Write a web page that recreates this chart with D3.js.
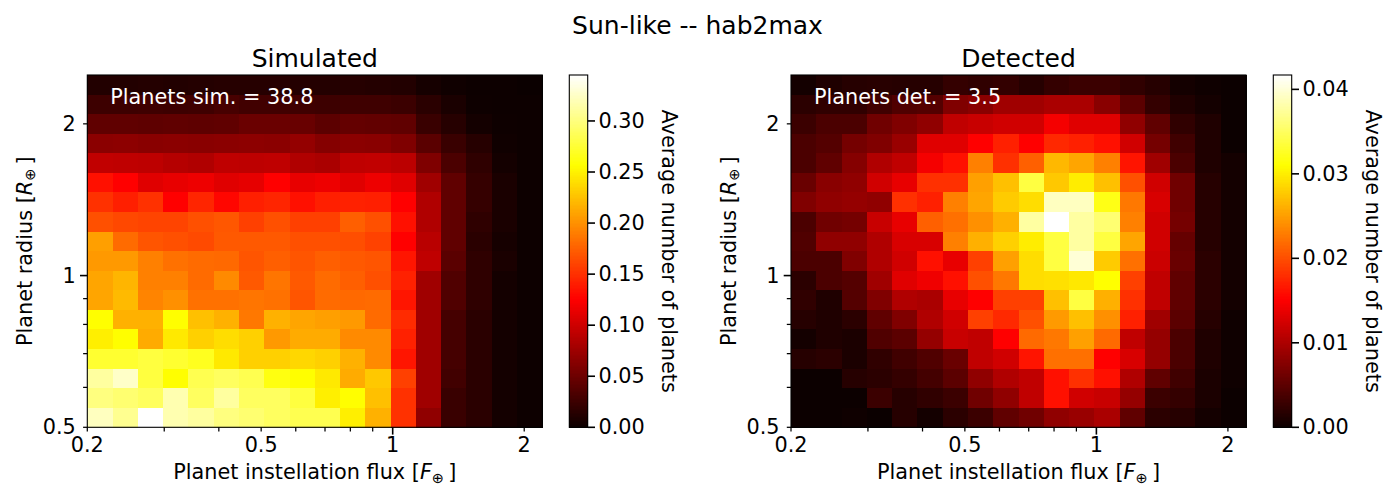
<!DOCTYPE html>
<html>
<head>
<meta charset="utf-8">
<script src="https://cdn.jsdelivr.net/npm/d3@7"></script>
<style>
  body { margin: 0; background: #fff; }
  text { font-family: "DejaVu Sans", sans-serif; fill: #000; }
</style>
</head>
<body>
<svg id="fig" width="1395" height="486"></svg>
<script>
// ---- Data ---------------------------------------------------------------
// Bin layout: 18 log-spaced flux bins over [0.2, 2.2] F_earth,
// 18 log-spaced radius bins over [0.5, 2.5] R_earth.
const fluxRange = [0.2, 2.2];
const radiusRange = [0.5, 2.5];
const nFluxBins = 18;
const nRadiusBins = 18;

// Average number of simulated planets per bin.
// Rows run from the largest radius bin (top) down to the smallest.
const simulated = [
  [0.012,0.012,0.013,0.012,0.013,0.014,0.014,0.014,0.013,0.013,0.014,0.013,0.012,0.006,0.003,0.001,0.001,0.000],
  [0.026,0.026,0.027,0.026,0.027,0.031,0.028,0.028,0.027,0.026,0.027,0.027,0.025,0.016,0.008,0.002,0.001,0.001],
  [0.044,0.044,0.043,0.044,0.043,0.044,0.049,0.049,0.048,0.042,0.046,0.045,0.044,0.024,0.014,0.005,0.002,0.001],
  [0.066,0.067,0.065,0.066,0.065,0.066,0.067,0.066,0.071,0.063,0.066,0.065,0.060,0.041,0.024,0.014,0.003,0.001],
  [0.094,0.093,0.092,0.088,0.085,0.093,0.092,0.093,0.085,0.082,0.093,0.094,0.091,0.060,0.033,0.019,0.005,0.001],
  [0.134,0.126,0.110,0.114,0.117,0.110,0.113,0.126,0.114,0.117,0.110,0.117,0.110,0.077,0.044,0.022,0.008,0.001],
  [0.151,0.142,0.151,0.126,0.145,0.129,0.142,0.145,0.134,0.142,0.143,0.142,0.126,0.085,0.044,0.022,0.008,0.001],
  [0.167,0.163,0.161,0.161,0.167,0.171,0.159,0.167,0.159,0.159,0.175,0.167,0.134,0.085,0.044,0.019,0.008,0.001],
  [0.208,0.181,0.170,0.167,0.164,0.172,0.172,0.172,0.167,0.167,0.166,0.160,0.126,0.090,0.044,0.016,0.006,0.001],
  [0.205,0.205,0.192,0.184,0.181,0.180,0.170,0.175,0.170,0.175,0.172,0.170,0.137,0.093,0.041,0.019,0.008,0.001],
  [0.211,0.219,0.192,0.192,0.181,0.197,0.172,0.186,0.172,0.181,0.175,0.167,0.143,0.077,0.036,0.019,0.005,0.001],
  [0.211,0.222,0.194,0.200,0.184,0.184,0.186,0.184,0.170,0.181,0.180,0.181,0.137,0.077,0.036,0.019,0.005,0.001],
  [0.257,0.217,0.217,0.257,0.225,0.217,0.188,0.217,0.211,0.208,0.205,0.181,0.148,0.077,0.030,0.016,0.005,0.001],
  [0.249,0.257,0.214,0.246,0.233,0.240,0.233,0.205,0.214,0.214,0.197,0.197,0.143,0.077,0.030,0.016,0.005,0.001],
  [0.274,0.274,0.279,0.274,0.268,0.246,0.233,0.233,0.237,0.233,0.217,0.197,0.137,0.077,0.030,0.016,0.005,0.001],
  [0.312,0.326,0.279,0.257,0.285,0.290,0.285,0.263,0.257,0.246,0.214,0.229,0.159,0.077,0.028,0.016,0.005,0.001],
  [0.301,0.296,0.290,0.318,0.290,0.312,0.290,0.290,0.279,0.249,0.257,0.225,0.151,0.077,0.024,0.016,0.005,0.001],
  [0.323,0.307,0.345,0.318,0.312,0.301,0.296,0.290,0.285,0.285,0.249,0.217,0.151,0.069,0.024,0.016,0.005,0.001]
];

// Average number of detected planets per bin (same row order).
const detected = [
  [0.0006,0.0013,0.0017,0.0018,0.0017,0.0017,0.0026,0.0023,0.0025,0.0017,0.0026,0.0030,0.0030,0.0023,0.0017,0.0006,0.0003,0.0001],
  [0.0020,0.0023,0.0023,0.0033,0.0043,0.0046,0.0073,0.0079,0.0093,0.0093,0.0099,0.0099,0.0079,0.0050,0.0026,0.0013,0.0006,0.0001],
  [0.0030,0.0040,0.0040,0.0063,0.0073,0.0083,0.0113,0.0118,0.0123,0.0123,0.0146,0.0133,0.0133,0.0083,0.0053,0.0023,0.0013,0.0001],
  [0.0040,0.0046,0.0066,0.0073,0.0089,0.0133,0.0133,0.0152,0.0172,0.0152,0.0177,0.0172,0.0162,0.0123,0.0066,0.0033,0.0013,0.0001],
  [0.0040,0.0053,0.0076,0.0103,0.0113,0.0146,0.0162,0.0232,0.0182,0.0212,0.0267,0.0255,0.0232,0.0165,0.0093,0.0040,0.0013,0.0006],
  [0.0059,0.0079,0.0083,0.0123,0.0138,0.0182,0.0182,0.0252,0.0272,0.0338,0.0277,0.0300,0.0272,0.0202,0.0123,0.0063,0.0017,0.0006],
  [0.0073,0.0083,0.0086,0.0083,0.0182,0.0172,0.0232,0.0255,0.0279,0.0290,0.0391,0.0391,0.0320,0.0227,0.0128,0.0063,0.0017,0.0006],
  [0.0040,0.0063,0.0066,0.0118,0.0138,0.0212,0.0222,0.0242,0.0262,0.0378,0.0417,0.0378,0.0358,0.0232,0.0123,0.0066,0.0017,0.0006],
  [0.0043,0.0083,0.0083,0.0103,0.0128,0.0128,0.0232,0.0262,0.0282,0.0300,0.0338,0.0378,0.0338,0.0255,0.0123,0.0056,0.0017,0.0006],
  [0.0040,0.0040,0.0073,0.0103,0.0123,0.0162,0.0138,0.0192,0.0252,0.0290,0.0338,0.0400,0.0279,0.0222,0.0120,0.0059,0.0020,0.0006],
  [0.0020,0.0040,0.0046,0.0093,0.0133,0.0143,0.0162,0.0202,0.0227,0.0290,0.0292,0.0297,0.0311,0.0192,0.0113,0.0053,0.0020,0.0006],
  [0.0023,0.0013,0.0046,0.0073,0.0103,0.0099,0.0138,0.0152,0.0192,0.0192,0.0272,0.0338,0.0262,0.0182,0.0113,0.0053,0.0020,0.0006],
  [0.0017,0.0013,0.0020,0.0053,0.0073,0.0103,0.0123,0.0192,0.0178,0.0202,0.0248,0.0272,0.0242,0.0172,0.0093,0.0050,0.0017,0.0003],
  [0.0006,0.0013,0.0010,0.0043,0.0050,0.0086,0.0118,0.0113,0.0152,0.0218,0.0227,0.0252,0.0218,0.0113,0.0086,0.0040,0.0013,0.0003],
  [0.0017,0.0020,0.0010,0.0023,0.0033,0.0043,0.0059,0.0113,0.0123,0.0165,0.0222,0.0222,0.0152,0.0128,0.0086,0.0040,0.0013,0.0003],
  [0.0001,0.0001,0.0017,0.0020,0.0026,0.0036,0.0050,0.0083,0.0103,0.0113,0.0162,0.0182,0.0162,0.0103,0.0053,0.0033,0.0010,0.0003],
  [0.0001,0.0001,0.0001,0.0030,0.0017,0.0023,0.0030,0.0063,0.0083,0.0113,0.0162,0.0123,0.0118,0.0086,0.0030,0.0026,0.0010,0.0001],
  [0.0001,0.0001,0.0003,0.0000,0.0017,0.0006,0.0020,0.0030,0.0053,0.0063,0.0083,0.0089,0.0099,0.0053,0.0020,0.0017,0.0006,0.0001]
];

const totals = { simulated: 38.8, detected: 3.5 };

// Tick labels
const fluxTickValues = [0.2, 0.5, 1, 2];
const fluxTickLabels = ["0.2", "0.5", "1", "2"];
const fluxMinorTicks = [0.3, 0.4, 0.6, 0.7, 0.8, 0.9];
const radiusTickValues = [0.5, 1, 2];
const radiusTickLabels = ["0.5", "1", "2"];
const radiusMinorTicks = [0.6, 0.7, 0.8, 0.9];
const cbarTicksSim = [0, 0.05, 0.10, 0.15, 0.20, 0.25, 0.30];
const cbarTicksDet = [0, 0.01, 0.02, 0.03, 0.04];

// ---- Colour map (matplotlib "hot") ----------------------------------------
function hot(t) {
  t = Math.max(0, Math.min(1, t));
  const a = 0.365079, b = 0.746032;
  const r = t < a ? 0.0416 + (1 - 0.0416) * t / a : 1;
  const g = t < a ? 0 : (t < b ? (t - a) / (b - a) : 1);
  const bl = t < b ? 0 : (t - b) / (1 - b);
  return d3.rgb(r * 255, g * 255, bl * 255).toString();
}

// ---- Layout ------------------------------------------------------------------
const svg = d3.select("#fig");
const plotTop = 75, plotBottom = 427.3;
const FS = 20.8;       // tick / label font size
const TITLE_FS = 25;
const majorLen = 7.3, minorLen = 4.2;
const majorW = 1.6, minorW = 1.25;

svg.append("text")
  .attr("x", 697.5).attr("y", 34)
  .attr("text-anchor", "middle")
  .style("font-size", TITLE_FS + "px")
  .text("Sun-like -- hab2max");

const panels = [
  { left: 87.3, right: 542.3, cbLeft: 569.3, cbRight: 587.7, data: simulated,
    title: "Simulated", note: "Planets sim. = " + totals.simulated, ticks: cbarTicksSim,
    fmt: d3.format(".2f") },
  { left: 791, right: 1246, cbLeft: 1273.3, cbRight: 1291.7, data: detected,
    title: "Detected", note: "Planets det. = " + totals.detected, ticks: cbarTicksDet,
    fmt: d3.format(".2f") }
];

function logEdges(range, n) {
  const l0 = Math.log(range[0]), l1 = Math.log(range[1]);
  return d3.range(n + 1).map(i => Math.exp(l0 + (l1 - l0) * i / n));
}
const fluxEdges = logEdges(fluxRange, nFluxBins);
const radiusEdges = logEdges(radiusRange, nRadiusBins);

panels.forEach(p => {
  const x = d3.scaleLog().domain(fluxRange).range([p.left, p.right]);
  const y = d3.scaleLog().domain(radiusRange).range([plotBottom, plotTop]);
  const vmax = d3.max(p.data.flat());
  const c = d3.scaleLinear().domain([0, vmax]).range([0, 1]);

  const g = svg.append("g");

  // heatmap cells
  const cells = [];
  p.data.forEach((row, ri) => {
    const rb = nRadiusBins - 1 - ri;   // row 0 is the largest radius bin
    row.forEach((v, fi) => cells.push({ fi, rb, v }));
  });
  g.append("g").attr("shape-rendering", "crispEdges")
    .selectAll("rect").data(cells).join("rect")
    .attr("x", d => x(fluxEdges[d.fi]))
    .attr("y", d => y(radiusEdges[d.rb + 1]))
    .attr("width", d => x(fluxEdges[d.fi + 1]) - x(fluxEdges[d.fi]) + 0.5)
    .attr("height", d => y(radiusEdges[d.rb]) - y(radiusEdges[d.rb + 1]) + 0.5)
    .attr("fill", d => hot(c(d.v)));

  // frame
  g.append("rect")
    .attr("x", p.left).attr("y", plotTop)
    .attr("width", p.right - p.left).attr("height", plotBottom - plotTop)
    .attr("fill", "none").attr("stroke", "#000").attr("stroke-width", 1.1);

  // x ticks
  const xt = g.append("g");
  fluxMinorTicks.forEach(v => {
    xt.append("line").attr("x1", x(v)).attr("x2", x(v))
      .attr("y1", plotBottom).attr("y2", plotBottom + minorLen)
      .attr("stroke", "#000").attr("stroke-width", minorW);
  });
  fluxTickValues.forEach((v, i) => {
    const len = v === 1 ? majorLen : minorLen;
    xt.append("line").attr("x1", x(v)).attr("x2", x(v))
      .attr("y1", plotBottom).attr("y2", plotBottom + len)
      .attr("stroke", "#000").attr("stroke-width", v === 1 ? majorW : minorW);
    xt.append("text").attr("x", x(v)).attr("y", plotBottom + 25)
      .attr("text-anchor", "middle").style("font-size", FS + "px")
      .text(fluxTickLabels[i]);
  });

  // y ticks
  radiusMinorTicks.forEach(v => {
    xt.append("line").attr("x1", p.left - minorLen).attr("x2", p.left)
      .attr("y1", y(v)).attr("y2", y(v))
      .attr("stroke", "#000").attr("stroke-width", minorW);
  });
  radiusTickValues.forEach((v, i) => {
    const len = v === 1 ? majorLen : minorLen;
    xt.append("line").attr("x1", p.left - len).attr("x2", p.left)
      .attr("y1", y(v)).attr("y2", y(v))
      .attr("stroke", "#000").attr("stroke-width", v === 1 ? majorW : minorW);
    xt.append("text").attr("x", p.left - minorLen - 7.3).attr("y", y(v))
      .attr("text-anchor", "end").attr("dominant-baseline", "central")
      .style("font-size", FS + "px")
      .text(radiusTickLabels[i]);
  });

  // axis labels
  const xl = g.append("text")
    .attr("x", (p.left + p.right) / 2).attr("y", 479)
    .attr("text-anchor", "middle").style("font-size", FS + "px");
  xl.append("tspan").text("Planet instellation flux [");
  xl.append("tspan").style("font-style", "italic").text("F");
  xl.append("tspan").attr("dy", 4).style("font-size", (FS * 0.7) + "px").text("\u2295");
  xl.append("tspan").attr("dy", -4).text("\u2009]");

  const yl = g.append("text")
    .attr("transform", `translate(${p.left - 62},${(plotTop + plotBottom) / 2}) rotate(-90)`)
    .attr("text-anchor", "middle").attr("dominant-baseline", "central")
    .style("font-size", FS + "px");
  yl.append("tspan").text("Planet radius [");
  yl.append("tspan").style("font-style", "italic").text("R");
  yl.append("tspan").attr("dy", 4).style("font-size", (FS * 0.7) + "px").text("\u2295");
  yl.append("tspan").attr("dy", -4).text("\u2009]");

  // title
  g.append("text")
    .attr("x", (p.left + p.right) / 2).attr("y", 67)
    .attr("text-anchor", "middle").style("font-size", TITLE_FS + "px")
    .text(p.title);

  // total count note
  g.append("text")
    .attr("x", p.left + 23).attr("y", 104)
    .style("font-size", FS + "px").style("fill", "#fff")
    .text(p.note);

  // colorbar
  const cy = d3.scaleLinear().domain([0, vmax]).range([plotBottom, plotTop]);
  const steps = d3.range(256);
  const cb = g.append("g").attr("shape-rendering", "crispEdges");
  cb.selectAll("rect").data(steps).join("rect")
    .attr("x", p.cbLeft)
    .attr("width", p.cbRight - p.cbLeft)
    .attr("y", i => cy(vmax * (i + 1) / 256))
    .attr("height", i => cy(vmax * i / 256) - cy(vmax * (i + 1) / 256) + 0.6)
    .attr("fill", i => hot((i + 0.5) / 256));
  g.append("rect")
    .attr("x", p.cbLeft).attr("y", plotTop)
    .attr("width", p.cbRight - p.cbLeft).attr("height", plotBottom - plotTop)
    .attr("fill", "none").attr("stroke", "#000").attr("stroke-width", 1.1);
  p.ticks.forEach(v => {
    g.append("line").attr("x1", p.cbRight).attr("x2", p.cbRight + majorLen)
      .attr("y1", cy(v)).attr("y2", cy(v))
      .attr("stroke", "#000").attr("stroke-width", majorW);
    g.append("text").attr("x", p.cbRight + majorLen + 3.5).attr("y", cy(v))
      .attr("dominant-baseline", "central").style("font-size", FS + "px")
      .text(p.fmt(v));
  });
  g.append("text")
    .attr("transform", `translate(${p.cbRight + 81},${(plotTop + plotBottom) / 2}) rotate(90)`)
    .attr("text-anchor", "middle").attr("dominant-baseline", "central")
    .style("font-size", FS + "px")
    .text("Average number of planets");
});
</script>
</body>
</html>
